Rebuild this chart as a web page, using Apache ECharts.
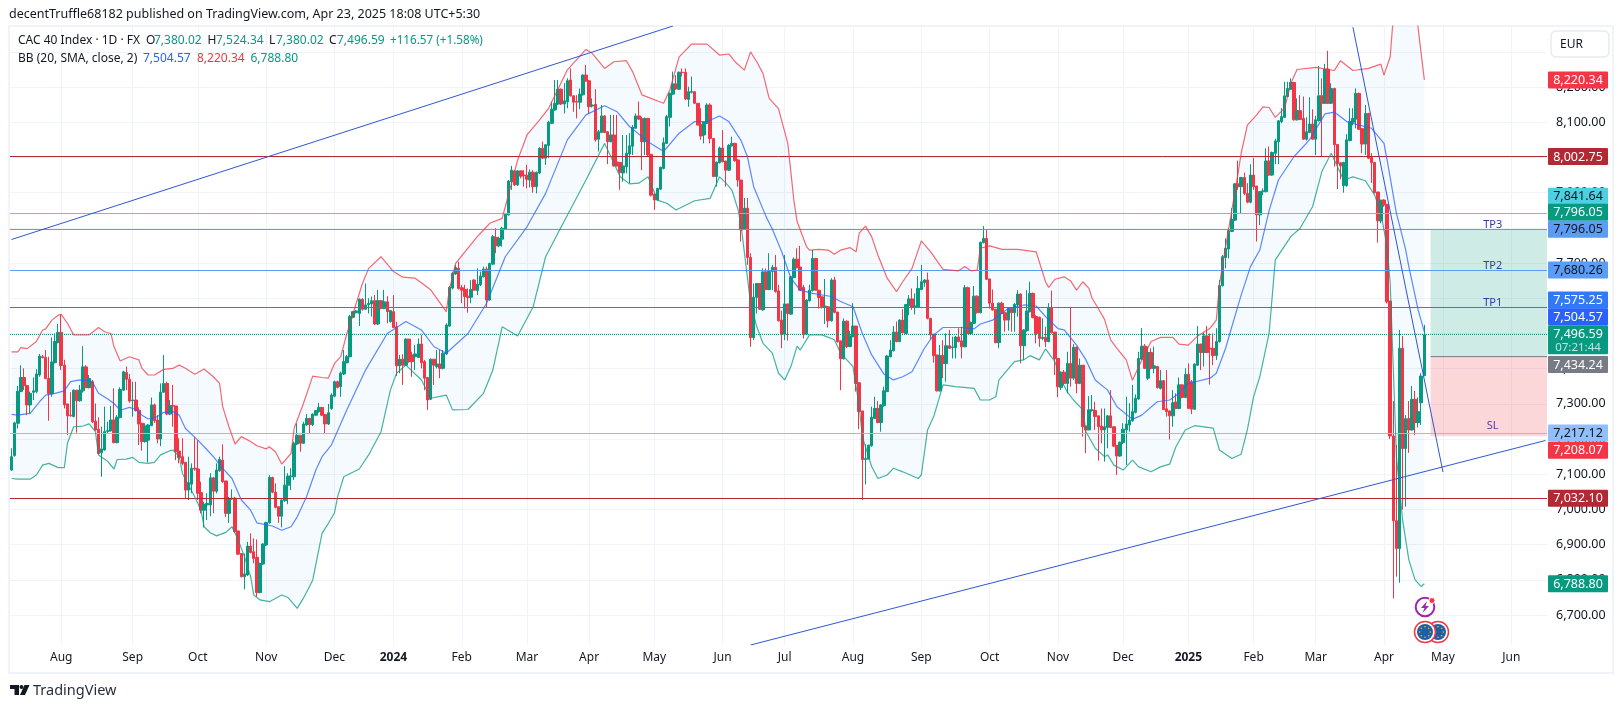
<!DOCTYPE html>
<html><head><meta charset="utf-8">
<style>html,body{margin:0;padding:0;background:#fff}#c{width:1623px;height:708px}</style>
<script src="https://cdn.jsdelivr.net/npm/echarts@6/dist/echarts.min.js"></script>
</head><body><div id="c"></div>
<script>
// rows are [open, high, low, close]
const candlesA=[[7112,7174,7110,7150],[7153,7249,7150,7246],[7245,7351,7230,7336],[7335,7410,7335,7375],[7375,7401,7339,7352],[7352,7354,7268,7297],[7297,7335,7273,7330],[7333,7375,7311,7337],[7335,7398,7330,7385],[7382,7442,7377,7436],[7434,7439,7429,7432],[7432,7453,7370,7372],[7372,7434,7252,7329],[7329,7489,7320,7419],[7417,7500,7415,7477],[7474,7527,7472,7503],[7503,7555,7396,7409],[7410,7425,7287,7297],[7300,7300,7211,7266],[7268,7333,7264,7266],[7264,7341,7262,7339],[7339,7339,7218,7309],[7309,7354,7306,7339],[7337,7464,7332,7405],[7405,7410,7346,7346],[7346,7382,7344,7372],[7363,7368,7246,7249],[7251,7301,7224,7226],[7228,7262,7157,7159],[7161,7235,7093,7172],[7169,7292,7167,7221],[7222,7249,7216,7224],[7224,7294,7221,7254],[7254,7344,7188,7190],[7190,7268,7188,7262],[7261,7347,7259,7341],[7339,7394,7337,7391],[7389,7406,7339,7370],[7370,7385,7303,7308],[7309,7363,7264,7311],[7311,7363,7278,7281],[7282,7290,7183,7243],[7245,7245,7167,7193],[7193,7245,7190,7237],[7197,7243,7134,7240],[7238,7318,7237,7297],[7297,7301,7246,7252],[7254,7268,7188,7200],[7200,7358,7180,7333],[7333,7439,7332,7358],[7358,7363,7268,7271],[7271,7311,7268,7295],[7295,7354,7235,7294],[7294,7294,7140,7164],[7166,7202,7131,7147],[7150,7202,7126,7131],[7134,7134,7030,7055],[7055,7150,7027,7076],[7072,7131,7046,7117],[7117,7205,7110,7115],[7115,7197,7027,7046],[7048,7079,6989,6998],[6998,7022,6949,7015],[7013,7046,6970,7017],[7013,7103,6981,7090],[7090,7093,6989,7052],[7052,7131,7046,7112],[7110,7150,7107,7142],[7140,7185,7076,7079],[7081,7081,6979,6989],[6989,7036,6962,7030],[7030,7057,7027,7032],[7032,7036,6934,6937],[6939,6939,6871,6873],[6875,6875,6807,6809],[6809,6875,6773,6817],[6814,6908,6811,6896],[6896,6932,6875,6878],[6880,6918,6847,6861],[6864,6915,6752,6764],[6764,6849,6762,6847],[6845,6904,6842,6902],[6899,6965,6896,6963],[6962,7098,6960,7091],[7091,7093,7046,7049],[7049,7074,7003,7006],[7008,7008,6962,6981],[6981,7029,6949,7027],[7025,7123,7022,7069],[7069,7103,7015,7095],[7093,7117,7055,7095],[7093,7193,7084,7188],[7186,7245,7183,7211],[7211,7211,7164,7188],[7188,7249,7186,7243],[7240,7271,7238,7259],[7259,7259,7214,7241],[7241,7273,7237,7271],[7268,7282,7265,7281],[7278,7303,7275,7290],[7290,7290,7265,7268],[7270,7270,7214,7243],[7243,7300,7240,7275]];
const candlesB=[[7287,7330,7283,7325],[7322,7366,7319,7363],[7363,7366,7344,7347],[7349,7392,7320,7387],[7385,7453,7382,7420],[7417,7439,7415,7434],[7434,7553,7432,7548],[7546,7564,7543,7562],[7559,7567,7557,7564],[7557,7600,7521,7597],[7597,7600,7565,7569],[7569,7642,7567,7581],[7582,7600,7557,7585],[7584,7605,7548,7593],[7593,7609,7524,7527],[7527,7624,7524,7593],[7593,7595,7569,7571],[7571,7624,7569,7590],[7590,7606,7529,7562],[7534,7567,7531,7565],[7562,7609,7515,7517],[7519,7533,7379,7408],[7408,7439,7387,7427],[7427,7441,7354,7410],[7410,7486,7408,7484],[7484,7484,7417,7420],[7439,7448,7377,7420],[7434,7467,7396,7442],[7432,7486,7431,7470],[7470,7496,7401,7417],[7420,7425,7339,7373],[7375,7375,7283,7311],[7313,7429,7311,7427],[7427,7427,7354,7410],[7406,7453,7401,7413],[7413,7453,7373,7401],[7401,7453,7398,7444],[7442,7529,7439,7524],[7521,7635,7519,7631],[7629,7676,7625,7671],[7669,7695,7666,7687],[7685,7704,7625,7628],[7630,7638,7586,7623],[7625,7638,7571,7605],[7606,7628,7559,7602],[7603,7652,7586,7625],[7652,7654,7622,7623],[7622,7685,7609,7640],[7638,7676,7635,7663],[7661,7690,7659,7683],[7683,7690,7574,7595],[7595,7701,7593,7699],[7697,7780,7695,7775],[7773,7799,7728,7749],[7749,7775,7745,7770],[7768,7803,7747,7799],[7797,7841,7794,7839],[7837,7936,7835,7933],[7931,7976,7908,7964],[7962,7964,7919,7922],[7922,7964,7919,7962],[7962,7962,7941,7947],[7950,7964,7917,7949],[7949,7979,7912,7938],[7936,7966,7915,7958],[7958,7964,7900,7917],[7917,7960,7898,7958],[7956,8029,7953,8026],[8026,8045,7995,7998],[7998,8038,7979,8036],[8034,8104,7998,8100],[8097,8159,8095,8137],[8135,8220,8133,8154],[8152,8220,8149,8194],[8194,8196,8149,8152],[8152,8211,8125,8161],[8158,8225,8140,8218],[8220,8253,8173,8175],[8175,8177,8130,8157],[8159,8177,8111,8157],[8157,8196,8137,8180],[8178,8236,8176,8234],[8234,8263,8215,8217],[8218,8220,8124,8144],[8146,8168,8142,8149],[8151,8194,8045,8050],[8052,8078,8017,8073],[8071,8149,8069,8118],[8118,8120,8069,8071],[8073,8075,7981,8045],[8045,8121,8043,8064],[8064,8121,7974,7976],[7987,8121,7974,7976],[7986,7986,7908,7958],[7956,8064,7931,7976],[7974,8064,7955,8012],[8010,8069,7927,8033],[8032,8092,8007,8086],[8083,8125,8081,8118],[8118,8159,8106,8109],[8110,8116,7964,8045],[8045,8113,8007,8111],[8111,8111,8002,8007],[8009,8009,7889,7893],[7896,7896,7851,7879],[7879,7914,7877,7912],[7910,7974,7908,7972],[7969,8057,7966,8042],[8040,8121,8038,8116],[8114,8185,8088,8182],[8180,8244,8177,8209],[8209,8234,8192,8195],[8194,8244,8192,8242],[8242,8253,8230,8241],[8242,8253,8163,8166],[8165,8201,8144,8187],[8185,8230,8182,8187],[8187,8187,8152,8154],[8154,8154,8092,8092],[8094,8140,8050,8061],[8064,8102,8040,8100],[8097,8154,8095,8149],[8149,8154,8040,8054],[8054,8054,7944,7946],[7946,7988,7917,7987],[7985,8031,7983,8027],[8027,8078,7986,7988],[7990,7990,7917,7964],[7964,8038,7962,8034],[8033,8059,8031,8040],[8040,8042,7988,7991],[7993,7995,7917,7936],[7936,7936,7761,7794]];
const candlesC=[[7796,7885,7794,7856],[7856,7885,7695,7716],[7716,7728,7462,7488],[7488,7642,7481,7603],[7603,7642,7557,7642],[7642,7642,7567,7569],[7567,7685,7565,7675],[7675,7685,7623,7625],[7625,7728,7623,7676],[7676,7695,7623,7688],[7688,7723,7616,7619],[7621,7638,7534,7536],[7538,7565,7458,7498],[7498,7723,7481,7584],[7584,7584,7480,7557],[7555,7663,7553,7661],[7659,7716,7657,7711],[7711,7742,7685,7687],[7689,7749,7622,7623],[7631,7638,7486,7498],[7498,7597,7497,7595],[7593,7638,7591,7623],[7622,7737,7619,7713],[7713,7715,7622,7623],[7623,7623,7571,7602],[7604,7605,7571,7576],[7576,7655,7527,7578],[7576,7578,7517,7536],[7536,7657,7534,7652],[7652,7661,7557,7560],[7561,7561,7474,7477],[7479,7479,7339,7428],[7428,7543,7426,7535],[7535,7537,7458,7463],[7463,7507,7461,7493],[7491,7586,7489,7521],[7521,7521,7335,7358],[7360,7360,7228,7278],[7280,7280,7027,7142],[7142,7185,7071,7145],[7143,7183,7142,7183],[7181,7292,7178,7262],[7259,7320,7257,7287],[7287,7308,7245,7247],[7247,7299,7221,7297],[7295,7349,7292,7337],[7335,7438,7333,7436],[7434,7481,7432,7453],[7451,7521,7449,7504],[7504,7534,7475,7477],[7477,7540,7475,7538],[7538,7569,7500,7502],[7500,7584,7498,7582],[7580,7609,7552,7598],[7598,7628,7567,7574],[7575,7614,7554,7578],[7575,7663,7573,7628],[7625,7695,7623,7647],[7645,7654,7633,7652],[7652,7673,7540,7543],[7543,7543,7483,7496],[7498,7498,7417,7437],[7439,7439,7335,7337],[7337,7467,7335,7437],[7437,7481,7373,7415],[7415,7500,7363,7465],[7465,7510,7456,7458],[7460,7491,7429,7462],[7460,7493,7429,7490],[7490,7515,7475,7477],[7479,7519,7429,7462],[7462,7638,7461,7630],[7630,7633,7498,7500],[7500,7534,7498,7531],[7529,7635,7527,7606],[7606,7608,7557,7559],[7559,7761,7557,7759],[7758,7805,7756,7770],[7770,7796,7652,7654],[7655,7655,7571,7586],[7586,7625,7565,7567],[7569,7569,7472,7474],[7474,7588,7458,7586],[7586,7590,7555,7557],[7559,7559,7505,7538],[7538,7571,7508,7571],[7571,7571,7505,7559],[7559,7586,7505,7583],[7581,7623,7548,7612],[7612,7614,7415,7465],[7465,7512,7425,7510],[7508,7623,7505,7564],[7562,7647,7560,7614],[7614,7616,7543,7545],[7548,7552,7472,7500],[7546,7548,7462,7486],[7486,7543,7481,7489],[7489,7519,7461,7477],[7477,7586,7475,7574],[7574,7622,7500,7502],[7504,7504,7382,7429],[7429,7429,7319,7349],[7347,7392,7339,7390]];
const candlesD=[[7390,7396,7354,7358],[7358,7448,7330,7415],[7415,7576,7349,7373],[7373,7470,7368,7461],[7461,7463,7330,7358],[7358,7429,7356,7410],[7410,7410,7207,7235],[7237,7237,7160,7226],[7226,7322,7226,7283],[7281,7325,7278,7283],[7281,7306,7226,7264],[7266,7266,7139,7235],[7237,7287,7188,7226],[7226,7287,7136,7235],[7233,7268,7174,7266],[7266,7339,7231,7233],[7235,7235,7177,7180],[7182,7182,7098,7152],[7152,7193,7150,7191],[7190,7245,7186,7228],[7226,7320,7126,7243],[7240,7302,7221,7254],[7252,7354,7249,7278],[7276,7327,7273,7316],[7314,7448,7311,7429],[7427,7515,7425,7464],[7464,7470,7399,7401],[7373,7463,7368,7446],[7446,7458,7398,7401],[7401,7463,7387,7408],[7406,7408,7344,7346],[7344,7396,7341,7366],[7366,7368,7283,7284],[7286,7396,7264,7278],[7280,7281,7199,7266],[7266,7339,7235,7303],[7305,7330,7285,7287],[7287,7375,7285,7354],[7354,7354,7316,7318],[7318,7401,7316,7384],[7384,7415,7285,7287],[7363,7368,7271,7285],[7285,7415,7283,7413],[7410,7521,7408,7470],[7470,7470,7396,7446],[7446,7502,7406,7493],[7493,7521,7444,7446],[7458,7500,7355,7456],[7458,7500,7410,7437],[7437,7515,7425,7477],[7477,7652,7474,7636],[7636,7723,7633,7718],[7716,7770,7685,7742],[7740,7799,7713,7792],[7790,7856,7788,7824],[7822,7927,7820,7925],[7925,7991,7908,7917],[7917,7945,7841,7943],[7943,7957,7893,7898],[7898,7927,7870,7873],[7873,7981,7870,7950],[7950,7999,7908,7917],[7919,7919,7761,7837],[7837,7903,7808,7903],[7903,7912,7893,7905],[7903,8026,7901,7990],[7990,8031,7948,7950],[7950,8017,7948,8014],[8012,8053,7981,8047],[8045,8106,7981,8104],[8102,8140,8097,8116],[8114,8215,8112,8175],[8173,8215,8171,8196],[8194,8225,8192,8213],[8213,8215,8105,8107],[8107,8168,8105,8133],[8133,8177,8106,8108],[8111,8173,8050,8052],[8052,8114,8048,8073],[8071,8171,8069,8095],[8095,8137,8050,8052],[8052,8118,8007,8107],[8105,8260,8102,8175],[8175,8225,8002,8154],[8154,8266,8152,8251],[8251,8303,8152,8154],[8154,8211,8152,8196],[8196,8198,7974,8036],[8037,8037,7910,7983],[7985,7985,7938,7976],[7920,7988,7900,7986],[7920,8066,7917,8050],[8048,8140,8046,8102],[8100,8140,8091,8111],[8109,8196,8083,8182],[8182,8184,8078,8080],[8082,8082,8012,8038],[8038,8149,8007,8125],[8125,8127,7995,7998],[8000,8012,7928,7985],[7986,7986,7898,7900],[7902,7902,7758,7820],[7820,7879,7813,7879],[7879,7881,7860,7865],[7867,7867,7585,7590],[7592,7592,7200,7209],[7209,7308,6747,6968],[6968,7183,6809,6889],[6889,7510,6792,7458],[7458,7493,7000,7173],[7173,7268,7008,7258],[7258,7308,7161,7226],[7226,7351,7224,7313],[7313,7337,7211,7247],[7247,7318,7233,7278],[7303,7387,7240,7379],[7380.02,7524.34,7380.02,7496.59]];

// Bollinger bands as [candle index, price]
const bbUpper=[[0,7448],[2,7448],[3,7460],[5,7457],[8,7477],[10,7510],[11,7513],[13,7538],[15,7552],[16,7554],[18,7529],[20,7496],[25,7496],[28,7517],[30,7505],[32,7500],[33,7462],[35,7422],[36,7426],[38,7434],[41,7425],[42,7401],[44,7382],[46,7382],[49,7398],[52,7401],[54,7410],[56,7401],[59,7384],[62,7399],[65,7377],[67,7358],[68,7292],[70,7235],[72,7186],[74,7207],[77,7193],[79,7181],[82,7172],[83,7178],[85,7164],[87,7129],[90,7159],[91,7230],[94,7301],[97,7379],[100,7375],[102,7373],[104,7415],[106,7434],[108,7500],[111,7586],[113,7642],[115,7685],[119,7718],[123,7676],[126,7660],[130,7657],[135,7624],[140,7562],[141,7624],[143,7699],[150,7775],[152,7794],[154,7813],[158,7827],[159,7860],[163,7993],[166,8064],[170,8106],[173,8140],[179,8249],[185,8307],[187,8296],[191,8253],[194,8272],[198,8275],[200,8244],[203,8178],[210,8154],[212,8192],[215,8286],[219,8322],[224,8322],[228,8291],[231,8294],[233,8272],[236,8248],[238,8300],[240,8272],[242,8239],[244,8168],[247,8139],[250,8040],[252,7875],[253,7818],[256,7747],[257,7737],[260,7739],[263,7737],[265,7725],[267,7737],[270,7744],[272,7732],[273,7785],[275,7805],[277,7775],[279,7723],[282,7657],[285,7619],[287,7647],[290,7685],[293,7763],[296,7732],[300,7682],[305,7678],[307,7690],[309,7678],[311,7680],[312,7742],[315,7749],[319,7739],[324,7739],[330,7732],[333,7647],[334,7631],[336,7654],[339,7661],[341,7650],[343,7623],[345,7647],[347,7628],[348,7600],[350,7571],[352,7540],[354,7481],[356,7458],[359,7425],[361,7367],[364,7425],[367,7477],[370,7489],[374,7489],[376,7470],[379,7467],[382,7493],[386,7515],[388,7538],[389,7638],[391,7747],[395,7955],[396,8012],[398,8092],[401,8121],[403,8144],[405,8142],[407,8114],[410,8140],[412,8211],[414,8250],[420,8256],[426,8247],[428,8275],[432,8247],[437,8253],[441,8265],[442,8234],[444,8286],[445,8400],[447,8540],[449,8620],[451,8560],[453,8367],[455,8220.34]];
const bbBasis=[[0,7270],[2,7268],[6,7273],[9,7306],[11,7325],[14,7330],[17,7337],[19,7363],[22,7368],[25,7365],[26,7363],[28,7330],[31,7314],[33,7301],[35,7282],[38,7290],[40,7284],[42,7268],[44,7257],[47,7264],[49,7276],[52,7278],[54,7268],[56,7230],[60,7197],[63,7169],[65,7150],[68,7117],[71,7088],[74,7027],[77,6998],[79,6962],[84,6953],[87,6941],[90,6951],[92,6979],[95,7036],[98,7112],[100,7150],[103,7183],[108,7283],[114,7396],[121,7500],[127,7534],[132,7510],[136,7463],[140,7444],[147,7500],[153,7586],[159,7718],[166,7803],[172,7898],[179,8050],[185,8121],[191,8147],[195,8130],[199,8088],[205,8045],[210,8017],[215,8069],[220,8102],[224,8102],[228,8118],[231,8102],[235,8047],[237,8002],[239,7917],[243,7832],[245,7797],[248,7733],[251,7657],[254,7623],[258,7614],[264,7605],[267,7591],[271,7576],[274,7500],[277,7439],[281,7384],[284,7368],[287,7377],[290,7391],[294,7458],[297,7496],[300,7517],[306,7517],[310,7513],[312,7527],[316,7538],[321,7571],[326,7581],[330,7578],[333,7548],[337,7514],[339,7510],[343,7467],[346,7425],[349,7368],[353,7339],[356,7292],[361,7256],[364,7268],[369,7306],[373,7311],[376,7330],[379,7358],[386,7373],[388,7387],[391,7458],[393,7519],[396,7609],[399,7690],[402,7737],[405,7849],[408,7936],[413,8002],[418,8050],[423,8124],[426,8129],[430,8102],[434,8092],[438,8083],[442,8040],[443,7993],[446,7841],[447,7808],[449,7737],[450,7690],[453,7567],[455,7504.57]];
const bbLower=[[0,7088],[2,7086],[6,7086],[8,7098],[10,7126],[12,7131],[15,7119],[17,7119],[18,7188],[20,7235],[23,7237],[25,7243],[27,7221],[28,7155],[31,7136],[33,7115],[34,7142],[37,7143],[39,7148],[41,7134],[44,7131],[46,7134],[48,7155],[51,7167],[52,7169],[54,7150],[55,7103],[57,7069],[59,7036],[61,6998],[62,6951],[64,6934],[66,6925],[69,6935],[71,6951],[73,6913],[75,6866],[77,6809],[78,6757],[80,6743],[83,6738],[85,6747],[87,6757],[89,6750],[92,6719],[94,6748],[97,6799],[100,6932],[102,6960],[104,6990],[105,7036],[107,7093],[112,7115],[115,7155],[119,7221],[122,7339],[124,7387],[127,7410],[132,7368],[135,7316],[140,7325],[142,7283],[147,7284],[152,7330],[155,7396],[158,7519],[163,7493],[168,7576],[172,7718],[179,7836],[185,7936],[191,8040],[192,8021],[196,7945],[199,7925],[202,7927],[205,7945],[208,7879],[211,7870],[214,7851],[220,7877],[225,7884],[228,7945],[230,7928],[232,7907],[234,7851],[235,7803],[238,7586],[240,7519],[242,7472],[245,7444],[247,7387],[249,7368],[251,7406],[253,7464],[254,7453],[257,7496],[261,7496],[265,7482],[267,7444],[271,7406],[273,7293],[274,7207],[277,7122],[279,7088],[282,7098],[284,7117],[287,7107],[292,7088],[293,7098],[295,7226],[297,7264],[300,7354],[304,7349],[310,7344],[312,7311],[315,7311],[317,7320],[318,7368],[323,7420],[326,7425],[328,7437],[331,7425],[333,7456],[336,7420],[338,7368],[340,7334],[342,7311],[345,7283],[346,7221],[349,7174],[352,7150],[353,7155],[355,7126],[358,7112],[361,7140],[363,7121],[367,7107],[370,7121],[373,7129],[375,7178],[378,7226],[381,7238],[387,7231],[389,7169],[393,7145],[396,7157],[398,7226],[400,7320],[402,7377],[405,7500],[407,7709],[412,7775],[415,7799],[419,7860],[422,7960],[425,8012],[429,7936],[432,7945],[436,7934],[439,7893],[441,7841],[443,7747],[444,7642],[445,7400],[446,7150],[447,7060],[448,6970],[450,6857],[452,6800],[454,6781],[455,6788.8]];

// x axis: month ticks
const monthIndex=[16,39,60,82,104,123,145,166,186,207,229,249,271,293,315,337,358,379,400,420,442,461,483];
const monthLabel=['Aug','Sep','Oct','Nov','Dec','2024','Feb','Mar','Apr','May','Jun','Jul','Aug','Sep','Oct','Nov','Dec','2025','Feb','Mar','Apr','May','Jun'];
const categoryCount=495;
const priceTicks=[6700,6800,6900,7000,7100,7200,7300,7400,7500,7600,7700,7800,7900,8000,8100,8200,8300];

// drawn levels and trend lines
const levelValues=[8002.75,7841.64,7796.05,7680.26,7575.25,7217.12,7032.10];
const levelColors=['#b22833','#4dd0e1','#5b9cf6','#5b9cf6','#3179f5','#90bff9','#b22833'];
const lastClose=7496.59;
const trendUp=[[0,7767],[213,8373.5]];
const trendLow=[[238,6615],[494,7196]];
const trendDown=[[432,8370],[461,7106.5]];
// long-position tool: start index, target, entry, stop
const positionStart=457, positionTarget=7796.05, positionEntry=7434.24, positionStop=7208.07;
const drawingNames=['TP3','TP2','TP1','SL'];
const drawingValues=[7796.05,7680.26,7575.25,7217.12];

// price tags on the right scale
const tagValues=[8220.34,8002.75,7841.64,7796.05,7796.05,7680.26,7575.25,7504.57,7496.59,7434.24,7217.12,7208.07,7032.10,6788.80];
const tagFill=['#f23645','#b22833','#4dd0e1','#089981','#5b9cf6','#5b9cf6','#3179f5','#2962ff','#089981','#787b86','#90bff9','#f23645','#b22833','#089981'];
const tagInk=['#fff','#fff','#131722','#fff','#131722','#131722','#fff','#fff','#fff','#fff','#131722','#fff','#fff','#fff'];
const tagShift=[0,0,-17,-17,0,0,-7,-15,-1,8,0,14,0,0];
const countdown='07:21:44';

const UP='#089981',DOWN='#f23645',FONT='"Noto Sans",sans-serif';
const fmt=v=>v.toLocaleString('en-US',{minimumFractionDigits:2,maximumFractionDigits:2});
const rows=[...candlesA,...candlesB,...candlesC,...candlesD];
const ohlc=rows.map(r=>[r[0],r[3],r[2],r[1]]);
const categories=Array.from({length:categoryCount},(_,i)=>String(i));
const isMonth=i=>monthIndex.indexOf(i)>=0;

const chart=echarts.init(document.getElementById('c'),null,{renderer:'canvas'});
function txt(x,y,text,fill,size,extra){return {type:'text',x,y,z:50,silent:true,style:Object.assign({text,fill,font:(size||12)+'px '+FONT,textVerticalAlign:'middle',verticalAlign:'middle'},extra||{})};}
function euFlag(cx,cy){
  const g=[{type:'circle',shape:{cx,cy,r:10.5},style:{fill:'#fff',stroke:'#f23645',lineWidth:1.5},z:50,silent:true},
           {type:'circle',shape:{cx,cy,r:8},style:{fill:'#1f5fa8'},z:50,silent:true}];
  for(let k=0;k<8;k++){const a=k*Math.PI/4;g.push({type:'circle',shape:{cx:cx+5.2*Math.cos(a),cy:cy+5.2*Math.sin(a),r:0.8},style:{fill:'#f5c518'},z:50,silent:true});}
  return g;
}
const graphics=[
 {type:'rect',shape:{x:9,y:26,width:1604,height:647},style:{fill:'none',stroke:'#f0f3fa',lineWidth:2},z:-1,silent:true},
 txt(9,14,'decentTruffle68182 published on TradingView.com, Apr 23, 2025 18:08 UTC+5:30','#131722',12.5),
 txt(18,41,'CAC 40 Index · 1D · FX','#131722',12),
 txt(146,41,'O','#131722',12),txt(154,41,'7,380.02',UP,12),
 txt(207.5,41,'H','#131722',12),txt(216,41,'7,524.34',UP,12),
 txt(269,41,'L','#131722',12),txt(276,41,'7,380.02',UP,12),
 txt(329,41,'C','#131722',12),txt(337,41,'7,496.59',UP,12),
 txt(390,41,'+116.57 (+1.58%)',UP,11.7),
 txt(18,59,'BB (20, SMA, close, 2)','#131722',12),
 txt(143,59,'7,504.57','#2962ff',12),txt(197,59,'8,220.34','#f23645',12),txt(250.5,59,'6,788.80',UP,12),
 {type:'rect',shape:{x:1551,y:31,width:58,height:26,r:5},style:{fill:'#fff',stroke:'#e8eaf0',lineWidth:1.5},z:50,silent:true},
 txt(1560,44.5,'EUR','#131722',12),
 // TradingView logo
 {type:'polygon',shape:{points:[[10,685],[19,685],[19,695],[14.5,695],[14.5,689],[10,689]]},style:{fill:'#131722'},z:50,silent:true},
 {type:'circle',shape:{cx:21.5,cy:687,r:2},style:{fill:'#131722'},z:50,silent:true},
 {type:'polygon',shape:{points:[[24.5,685],[29.5,685],[25,695],[20,695]]},style:{fill:'#131722'},z:50,silent:true},
 txt(33,690.5,'TradingView','#2a2e39',14.5),
 // event icons
 {type:'circle',shape:{cx:1425,cy:607,r:9.3},style:{fill:'#fff',stroke:'#9c27b0',lineWidth:2},z:50,silent:true},
 {type:'polygon',shape:{points:[[1427,601],[1421,608],[1424.5,608],[1422.5,613],[1429,606],[1425.5,606]]},style:{fill:'#9c27b0'},z:50,silent:true},
 {type:'circle',shape:{cx:1432,cy:600.5,r:3},style:{fill:'#f23645',stroke:'#fff',lineWidth:1},z:50,silent:true},
 ...euFlag(1438,632),...euFlag(1425,632)
];

const option={
 animation:false,
 backgroundColor:'#fff',
 graphic:graphics,
 grid:{left:10,right:76,top:26,bottom:63,containLabel:false},
 xAxis:{type:'category',data:categories,boundaryGap:true,
  axisLine:{show:false},axisTick:{show:false},
  splitLine:{show:true,alignWithLabel:true,interval:(i)=>isMonth(i),lineStyle:{color:'#f0f3fa',width:1}},
  axisLabel:{show:true,interval:(i)=>isMonth(i),margin:7,color:'#131722',fontFamily:FONT,fontSize:12,hideOverlap:false,
    formatter:(v,i)=>{const l=monthLabel[monthIndex.indexOf(+v)];return /^20/.test(l)?'{b|'+l+'}':l;},
    rich:{b:{fontWeight:'bold',color:'#131722',fontFamily:FONT,fontSize:12}}}},
 yAxis:{type:'value',position:'right',min:6615,max:8373.5,scale:true,
  axisLine:{show:false},
  axisTick:{show:false,customValues:priceTicks},
  splitLine:{show:true,lineStyle:{color:'#f0f3fa',width:1}},
  axisLabel:{customValues:priceTicks,margin:9,color:'#131722',fontFamily:FONT,fontSize:12.5,formatter:v=>fmt(v)}},
 series:[
  {type:'custom',name:'bbFill',z:1,silent:true,coordinateSystem:'cartesian2d',data:[[0,7000]],clip:true,
   renderItem:(p,api)=>{
     const pts=[...bbUpper,...bbLower.slice().reverse()].map(d=>api.coord(d));
     const cs=p.coordSys;
     return {type:'polygon',shape:{points:echarts.graphic.clipPointsByRect(pts,{x:cs.x,y:cs.y,width:cs.width,height:cs.height})},style:{fill:'rgba(33,150,243,0.05)'}};
   }},
  {type:'custom',name:'position',z:1,silent:true,coordinateSystem:'cartesian2d',data:[[positionStart,positionEntry]],
   renderItem:(p,api)=>{
     const cs=p.coordSys,x=api.coord([positionStart,positionEntry])[0],r=cs.x+cs.width;
     const yT=api.coord([positionStart,positionTarget])[1],yE=api.coord([positionStart,positionEntry])[1],yS=api.coord([positionStart,positionStop])[1];
     return {type:'group',children:[
       {type:'rect',shape:{x,y:yT,width:r-x,height:yE-yT},style:{fill:'rgba(8,153,129,0.2)'}},
       {type:'rect',shape:{x,y:yE,width:r-x,height:yS-yE},style:{fill:'rgba(242,54,69,0.2)'}},
       {type:'line',shape:{x1:x,y1:yE,x2:r,y2:yE},style:{stroke:'#787b86',lineWidth:1}}
     ]};
   }},
  {type:'candlestick',name:'CAC 40',z:3,data:ohlc,barWidth:3,
   itemStyle:{color:UP,color0:DOWN,borderColor:UP,borderColor0:DOWN,borderColorDoji:UP,borderWidth:1},
   markLine:{silent:true,symbol:'none',animation:false,label:{show:false},z:4,
    data:[...levelValues.map((v,i)=>({yAxis:v,lineStyle:{color:levelColors[i],width:1,type:'solid'}})),
          {yAxis:lastClose,lineStyle:{color:UP,width:1,type:'dotted'}}]}},
  {type:'line',name:'Basis',z:4,data:bbBasis,showSymbol:false,silent:true,lineStyle:{color:'#2962ff',width:1.2,opacity:.75}},
  {type:'line',name:'Upper',z:4,data:bbUpper,showSymbol:false,silent:true,lineStyle:{color:'#f23645',width:1.2,opacity:.75}},
  {type:'line',name:'Lower',z:4,data:bbLower,showSymbol:false,silent:true,lineStyle:{color:'#089981',width:1.2,opacity:.75}},
  ...[trendUp,trendLow,trendDown].map(d=>({type:'line',name:'trend',z:5,data:d,showSymbol:false,silent:true,lineStyle:{color:'#2f55d4',width:1}})),
  {type:'custom',name:'drawingLabels',z:6,silent:true,coordinateSystem:'cartesian2d',data:drawingValues.map((v,i)=>[477,v,i]),
   renderItem:(p,api)=>{
     const c=api.coord([api.value(0),api.value(1)]),n=drawingNames[api.value(2)];
     return {type:'text',style:{x:c[0],y:n==='SL'?c[1]-2:c[1]+1,text:n,fill:n==='SL'?'#5e3a9e':'#2a3f9d',font:'11px '+FONT,textAlign:'center',textVerticalAlign:'bottom',align:'center',verticalAlign:'bottom'}};
   }},
  {type:'custom',name:'priceTags',z:20,silent:true,coordinateSystem:'cartesian2d',clip:false,data:tagValues.map((v,i)=>[0,v,i]),
   renderItem:(p,api)=>{
     const i=api.value(2),v=api.value(1),cs=p.coordSys;
     const y=api.coord([0,v])[1]+tagShift[i],x=cs.x+cs.width+1,w=60;
     const isLast=v===lastClose,h=isLast?29:17,top=y-8.5;
     const kids=[{type:'rect',shape:{x,y:top,width:w,height:h,r:1},style:{fill:tagFill[i]}},
       {type:'text',style:{x:x+w/2,y:y+.5,text:fmt(v),fill:tagInk[i],font:'12.5px '+FONT,textAlign:'center',textVerticalAlign:'middle',align:'center',verticalAlign:'middle'}}];
     if(isLast)kids.push({type:'text',style:{x:x+w/2,y:y+14,text:countdown,fill:'rgba(255,255,255,.75)',font:'11.5px '+FONT,textAlign:'center',textVerticalAlign:'middle',align:'center',verticalAlign:'middle'}});
     return {type:'group',children:kids};
   }}
 ]
};
chart.setOption(option);
</script></body></html>
